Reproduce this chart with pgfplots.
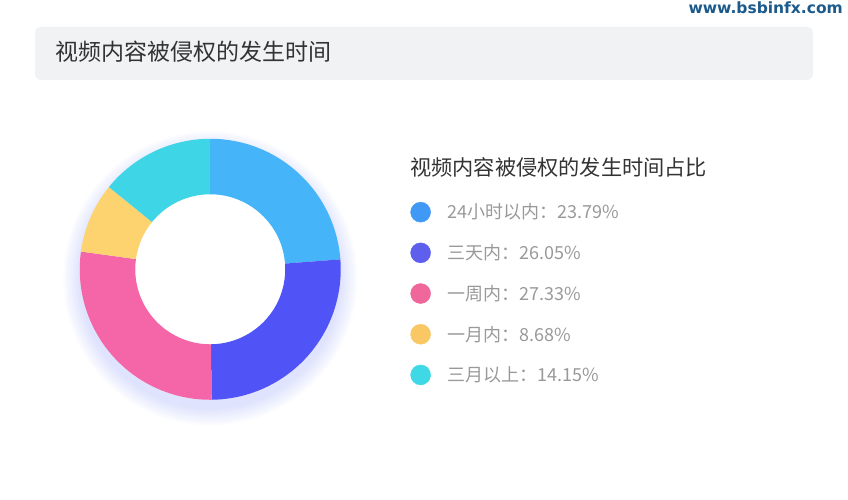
\documentclass[border=0pt]{standalone}
\usepackage{pgfplots}
\usepackage{pgfplotstable}
\pgfplotsset{compat=1.18}
\usepackage{fontspec}
\setmainfont{Noto Sans CJK SC}
\newfontfamily\wmfont{DejaVu Sans}

\definecolor{seg0}{HTML}{46B4F8}
\definecolor{seg1}{HTML}{5053F5}
\definecolor{seg2}{HTML}{F466A8}
\definecolor{seg3}{HTML}{FDD36F}
\definecolor{seg4}{HTML}{3ED6E6}
\definecolor{dot0}{HTML}{3F99F5}
\definecolor{dot1}{HTML}{5F5FEE}
\definecolor{dot2}{HTML}{F0679B}
\definecolor{dot3}{HTML}{F9C864}
\definecolor{dot4}{HTML}{3ED8E6}
\definecolor{glow}{HTML}{7080F4}
\definecolor{titlebox}{HTML}{F0F2F4}
\definecolor{darktext}{HTML}{333333}
\definecolor{greytext}{HTML}{999999}
\definecolor{wmblue}{HTML}{1B5A8A}

% share of each period, in percent
\pgfplotstableread{
value
23.79
26.05
27.33
8.68
14.15
}\piedata

\begin{document}
\begin{tikzpicture}[x=1pt,y=1pt]
\useasboundingbox (0,0) rectangle (848,500);

% header
\fill[titlebox,rounded corners=6pt] (35,420) rectangle (813,473);
\node[anchor=west,inner sep=0pt,font=\fontsize{23}{23}\selectfont,text=darktext] at (55,448) {视频内容被侵权的发生时间};
\node[anchor=east,inner sep=0pt,font=\wmfont\bfseries\fontsize{15.5}{15.5}\selectfont,text=wmblue] at (843,492) {www.bsbinfx.com};

% legend title
\node[anchor=west,inner sep=0pt,font=\fontsize{21.2}{21.2}\selectfont,text=darktext] at (410,333) {视频内容被侵权的发生时间占比};

\begin{axis}[
  at={(161.1,176.8)}, anchor=origin,
  scale only axis, width=261pt, height=261pt,
  xmin=-1, xmax=1, ymin=-1, ymax=1,
  hide axis, clip=false,
  legend image code/.code={\fill[#1] (10pt,0pt) circle (10pt);},
  legend cell align=left,
  legend style={
    at={(1.267,0.758)}, anchor=north west,
    draw=none, fill=none, inner sep=0pt, outer sep=0pt,
    font=\fontsize{18}{18}\selectfont, text=greytext,
    row sep=20.3pt, column sep=17pt,
    nodes={inner sep=0pt},
  },
]
  % soft glow under the ring
  \pgfplotsinvokeforeach{131,133,...,147}{
    \fill[glow,opacity=0.028] ([shift={(0pt,-9pt)}]axis cs:0,0) circle[radius=#1pt];
  }
  \fill[white] (axis cs:0,0) circle[radius=130pt];

  % ring sectors, clockwise from the top
  \def\angstart{90}
  \pgfplotsforeachungrouped \i in {0,...,4}{%
    \pgfplotstablegetelem{\i}{value}\of\piedata
    \pgfmathsetmacro\angend{\angstart-3.6*\pgfplotsretval}
    \edef\wedge{\noexpand\fill[seg\i]
      ([shift={(\angstart:130.5pt)}]axis cs:0,0)
      arc[start angle=\angstart,end angle=\angend,radius=130.5pt]
      -- ([shift={(\angend:75pt)}]axis cs:0,0)
      arc[start angle=\angend,end angle=\angstart,radius=75pt] -- cycle;}%
    \wedge
    \global\let\angstart\angend
  }

  \addlegendimage{dot0}\addlegendentry{24小时以内：23.79\%}
  \addlegendimage{dot1}\addlegendentry{三天内：26.05\%}
  \addlegendimage{dot2}\addlegendentry{一周内：27.33\%}
  \addlegendimage{dot3}\addlegendentry{一月内：8.68\%}
  \addlegendimage{dot4}\addlegendentry{三月以上：14.15\%}
\end{axis}
\end{tikzpicture}
\end{document}
